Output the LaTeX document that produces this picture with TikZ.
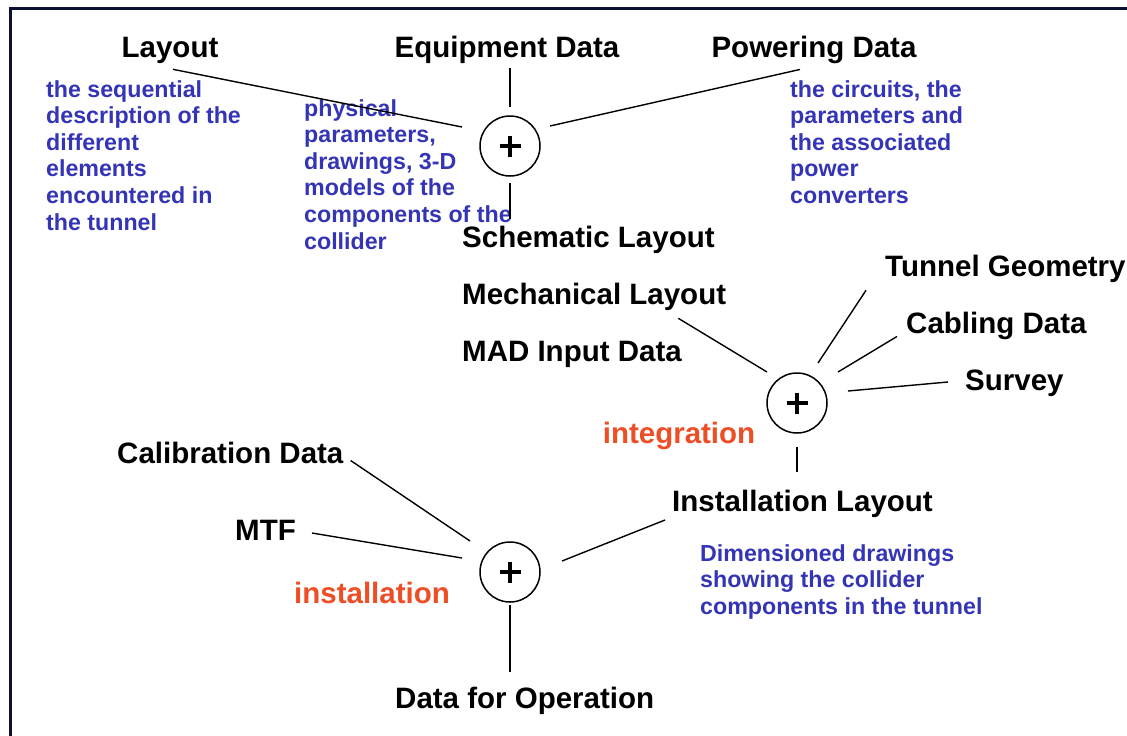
\documentclass[tikz,border=0pt]{standalone}
\usepackage{fontspec}
\setmainfont{Liberation Sans}
\usetikzlibrary{calc}
\definecolor{framenavy}{RGB}{12,16,52}
\definecolor{noteblue}{RGB}{52,52,182}
\definecolor{stepred}{RGB}{238,78,38}
\tikzset{
  label/.style={inner sep=0pt, font=\bfseries\fontsize{29.5}{34}\selectfont, text=black},
  note/.style={inner sep=0pt, align=left, font=\bfseries\fontsize{23.2}{26.6}\selectfont, text=noteblue},
  stage/.style={inner sep=0pt, font=\bfseries\fontsize{29.5}{34}\selectfont, text=stepred},
  merge/.style={circle, draw=black, line width=1.5pt, minimum size=60pt, inner sep=0pt,
                path picture={
                  \draw[line width=4.6pt] ($(path picture bounding box.center)+(-10.5,0)$)
                     -- ($(path picture bounding box.center)+(10.5,0)$);
                  \draw[line width=4.6pt] ($(path picture bounding box.center)+(0,-10.5)$)
                     -- ($(path picture bounding box.center)+(0,10.5)$);
                }},
  link/.style={draw=black, line width=1.4pt}
}
\begin{document}
\begin{tikzpicture}[x=1pt,y=-1pt]
\useasboundingbox (0,0) rectangle (1127,736);
\fill[white] (0,0) rectangle (1127,736);
% frame on the top and left edges
\draw[framenavy, line width=3pt] (10,736) -- (10,8.5) -- (1127,8.5);

% first merge: layout, equipment and powering data
\node[label, anchor=base] (lay) at (170,57) {Layout};
\node[label, anchor=base] (eq) at (507,57) {Equipment Data};
\node[label, anchor=base] (pw) at (814,57) {Powering Data};
\node[merge] (c1) at (510,146) {};

\node[note, anchor=north west] (laynote) at (46,80)
  {the sequential\\description of the\\different\\elements\\encountered in\\the tunnel};
\node[note, anchor=north west] (eqnote) at (304,99)
  {physical\\parameters,\\drawings, 3-D\\models of the\\components of the\\collider};
\node[note, anchor=north west] (pwnote) at (790,80)
  {the circuits, the\\parameters and\\the associated\\power\\converters};

\draw[link] ($(lay.south)+(3,6)$) -- ($(c1)+(-48,-19)$);
\draw[link] ($(eq.south)+(3,5)$) -- ($(c1)+(0,-39)$);
\draw[link] ($(pw.south)+(-14,6)$) -- ($(c1)+(40,-20)$);

% layouts produced from it
\node[label, anchor=base west] (sch) at (462,247) {Schematic Layout};
\node[label, anchor=base west] (mech) at (462,304) {Mechanical Layout};
\node[label, anchor=base west] (mad) at (462,361) {MAD Input Data};
\draw[link] ($(c1)+(0,37)$) -- ($(sch.north west)+(48,-6)$);

% second merge: integration
\node[label, anchor=base west] (tun) at (885,276) {Tunnel Geometry};
\node[label, anchor=base west] (cab) at (906,333) {Cabling Data};
\node[label, anchor=base west] (sur) at (965,390) {Survey};
\node[merge] (c2) at (797,403) {};
\node[stage, anchor=base] (integ) at (679,443) {integration};

\draw[link] ($(mech.south east)+(-48,8)$) -- ($(c2)+(-30,-31)$);
\draw[link] ($(tun.south west)+(-19,8)$) -- ($(c2)+(21,-40)$);
\draw[link] ($(cab.south west)+(-9,-3)$) -- ($(c2)+(41,-31)$);
\draw[link] ($(sur.base west)+(-17,-8)$) -- ($(c2)+(51,-12)$);

\node[label, anchor=base west] (inst) at (672,511) {Installation Layout};
\node[note, anchor=north west] (instnote) at (700,544)
  {Dimensioned drawings\\showing the collider\\components in the tunnel};
\draw[link] ($(c2)+(0,44)$) -- ($(inst.north west)+(125,-17)$);

% third merge: installation
\node[label, anchor=base west] (cal) at (117,463) {Calibration Data};
\node[label, anchor=base west] (mtf) at (235,540) {MTF};
\node[merge] (c3) at (510,572) {};
\node[stage, anchor=base] (instal) at (372,603) {installation};
\node[label, anchor=base west] (dfo) at (395,708) {Data for Operation};

\draw[link] ($(cal.south east)+(7,-3)$) -- ($(c3)+(-40,-31)$);
\draw[link] ($(mtf.base east)+(16,-7)$) -- ($(c3)+(-48,-14)$);
\draw[link] ($(c3)+(52,-11)$) -- ($(inst.base west)+(-7,9)$);
\draw[link] ($(c3)+(0,33)$) -- ($(dfo.north west)+(115,-14)$);
\end{tikzpicture}
\end{document}
